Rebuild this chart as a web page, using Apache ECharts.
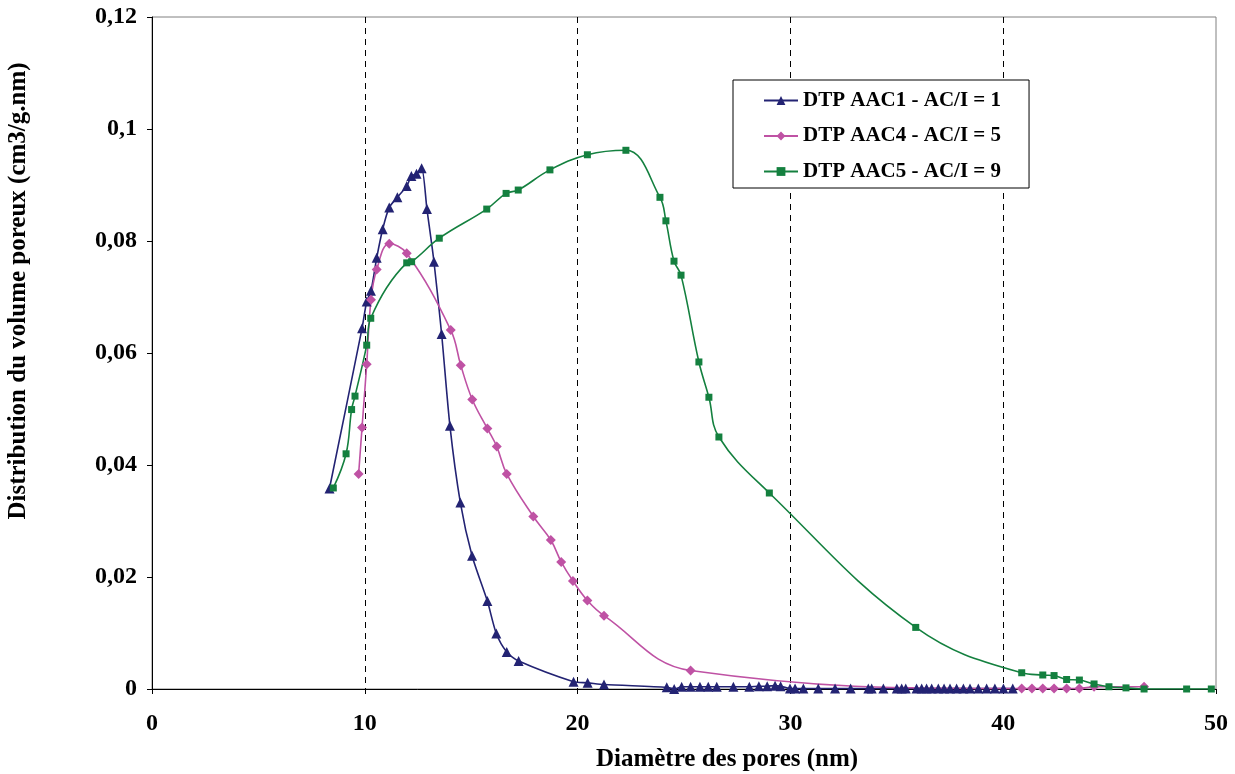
<!DOCTYPE html>
<html>
<head>
<meta charset="utf-8">
<script src="https://cdn.jsdelivr.net/npm/echarts@6/dist/echarts.min.js"></script>
<style>html,body{margin:0;padding:0;background:#fff;}#c{width:1235px;height:774px;}</style>
</head>
<body>
<div id="c"></div>
<script>
// ---- data ----
const seriesNames = ['DTP AAC1 - AC/I = 1', 'DTP AAC4 - AC/I = 5', 'DTP AAC5 - AC/I = 9'];

const aac1X = [8.34, 9.87, 10.09, 10.29, 10.56, 10.84, 11.15, 11.53, 11.97, 12.19, 12.43, 12.67, 12.92, 13.25, 13.61, 14.00, 14.49, 15.04, 15.76, 16.18, 16.67, 17.23, 19.81, 20.47, 21.24, 24.19, 24.54, 24.89, 25.31, 25.75, 26.14, 26.54, 27.32, 28.07, 28.52, 28.91, 29.28, 29.54, 29.98, 30.22, 30.61, 31.31, 32.10, 32.83, 33.66, 33.82, 34.37, 35.00, 35.23, 35.42, 35.93, 36.17, 36.40, 36.64, 36.95, 37.22, 37.50, 37.81, 38.13, 38.44, 38.83, 39.22, 39.61, 40.01, 40.45];
const aac1Y = [0.0358, 0.0644, 0.0692, 0.0711, 0.0770, 0.0821, 0.0860, 0.0878, 0.0898, 0.0916, 0.0920, 0.0930, 0.0857, 0.0763, 0.0634, 0.0470, 0.0333, 0.0238, 0.0157, 0.0099, 0.0066, 0.0050, 0.0013, 0.0011, 0.0008, 0.0003, 0.0000, 0.0004, 0.0004, 0.0004, 0.0004, 0.0004, 0.0004, 0.0004, 0.0005, 0.0005, 0.0006, 0.0005, 0.0001, 0.0001, 0.0001, 0.0001, 0.0001, 0.0001, 0.0001, 0.0001, 0.0001, 0.0001, 0.0001, 0.0001, 0.0001, 0.0001, 0.0001, 0.0001, 0.0001, 0.0001, 0.0001, 0.0001, 0.0001, 0.0001, 0.0001, 0.0001, 0.0001, 0.0001, 0.0001];

const aac4X = [9.71, 9.87, 10.09, 10.29, 10.56, 11.15, 11.97, 14.04, 14.51, 15.05, 15.76, 16.20, 16.67, 17.92, 18.74, 19.23, 19.78, 20.46, 21.24, 25.31, 40.87, 41.35, 41.86, 42.39, 42.98, 43.58, 44.27, 46.62];
const aac4Y = [0.0384, 0.0467, 0.0580, 0.0695, 0.0749, 0.0795, 0.0778, 0.0641, 0.0578, 0.0517, 0.0465, 0.0433, 0.0384, 0.0308, 0.0266, 0.0227, 0.0193, 0.0158, 0.0131, 0.0033, 0.0001, 0.0001, 0.0001, 0.0001, 0.0001, 0.0001, 0.0004, 0.0004];

const aac5X = [8.52, 9.12, 9.38, 9.54, 10.09, 10.28, 11.97, 12.20, 13.50, 15.73, 16.64, 17.21, 18.70, 20.46, 22.27, 23.87, 24.15, 24.53, 24.86, 25.70, 26.17, 26.64, 29.01, 35.89, 40.87, 41.86, 42.39, 42.98, 43.58, 44.27, 44.97, 45.77, 46.62, 48.62, 49.78];
const aac5Y = [0.0359, 0.0420, 0.0499, 0.0523, 0.0614, 0.0662, 0.0761, 0.0763, 0.0805, 0.0857, 0.0885, 0.0891, 0.0927, 0.0954, 0.0962, 0.0878, 0.0836, 0.0764, 0.0739, 0.0584, 0.0521, 0.0450, 0.0350, 0.0110, 0.0029, 0.0025, 0.0024, 0.0017, 0.0016, 0.0009, 0.0004, 0.0002, 0.0000, 0.0000, 0.0000];

const xTicks = {min: 0, max: 50, interval: 10};
const yTicks = {min: 0, max: 0.12, interval: 0.02};
const xTitle = 'Diamètre des pores (nm)';
const yTitle = 'Distribution du volume poreux (cm3/g.nm)';

// ---- chart ----
const FONT = '"Liberation Serif", "Times New Roman", serif';
const zip = (xs, ys) => xs.map((x, i) => [x, ys[i]]);
const chart = echarts.init(document.getElementById('c'), null, {renderer: 'canvas'});

function mkSeries(name, data, color, symbol, size, smooth) {
  return {
    name, type: 'line', data, smooth,
    symbol, symbolSize: size, showAllSymbol: true,
    lineStyle: {color, width: 1.6},
    itemStyle: {color, borderWidth: 0},
    emphasis: {disabled: true}
  };
}

chart.setOption({
  animation: false,
  backgroundColor: '#fff',
  grid: {left: 152, right: 19, top: 17, bottom: 85, show: true, borderColor: '#808080', borderWidth: 1, backgroundColor: 'transparent'},
  xAxis: {
    type: 'value', min: xTicks.min, max: xTicks.max, interval: xTicks.interval,
    axisLine: {onZero: false, lineStyle: {color: '#000', width: 1}},
    axisTick: {show: true, length: 5, lineStyle: {color: '#000'}},
    axisLabel: {margin: 23, fontFamily: FONT, fontWeight: 'bold', fontSize: 24, color: '#000'},
    splitLine: {show: true, showMinLine: false, showMaxLine: false, lineStyle: {color: '#000', type: [6, 5], width: 1}}
  },
  yAxis: {
    type: 'value', min: yTicks.min, max: yTicks.max, interval: yTicks.interval,
    axisLine: {show: true, onZero: false, lineStyle: {color: '#000', width: 1}},
    axisTick: {show: true, length: 5, lineStyle: {color: '#000'}},
    axisLabel: {margin: 15, fontFamily: FONT, fontWeight: 'bold', fontSize: 24, color: '#000',
      formatter: v => String(+v.toFixed(2)).replace('.', ',')},
    splitLine: {show: false}
  },
  legend: {
    left: 733, top: 80, orient: 'vertical',
    backgroundColor: '#fff', borderColor: '#000', borderWidth: 1,
    padding: [10, 28, 6, 30], itemGap: 14.5, itemWidth: 34, itemHeight: 11,
    textStyle: {fontFamily: FONT, fontWeight: 'bold', fontSize: 21, color: '#000', lineHeight: 21},
    data: seriesNames
  },
  graphic: [
    {type: 'text', x: 727, y: 760, silent: true,
     style: {text: xTitle, fontFamily: FONT, fontWeight: 'bold', fontSize: 25, fill: '#000', align: 'center', verticalAlign: 'middle'}},
    {type: 'text', x: 19, y: 291, rotation: Math.PI / 2, silent: true,
     style: {text: yTitle, fontFamily: FONT, fontWeight: 'bold', fontSize: 25, fill: '#000', align: 'center', verticalAlign: 'middle'}}
  ],
  series: [
    mkSeries(seriesNames[0], zip(aac1X, aac1Y), '#232373', 'triangle', 10, 0.25),
    mkSeries(seriesNames[1], zip(aac4X, aac4Y), '#BF52A4', 'diamond', 10, 0.4),
    mkSeries(seriesNames[2], zip(aac5X, aac5Y), '#14803F', 'rect', 7, 0.4)
  ]
});
</script>
</body>
</html>
